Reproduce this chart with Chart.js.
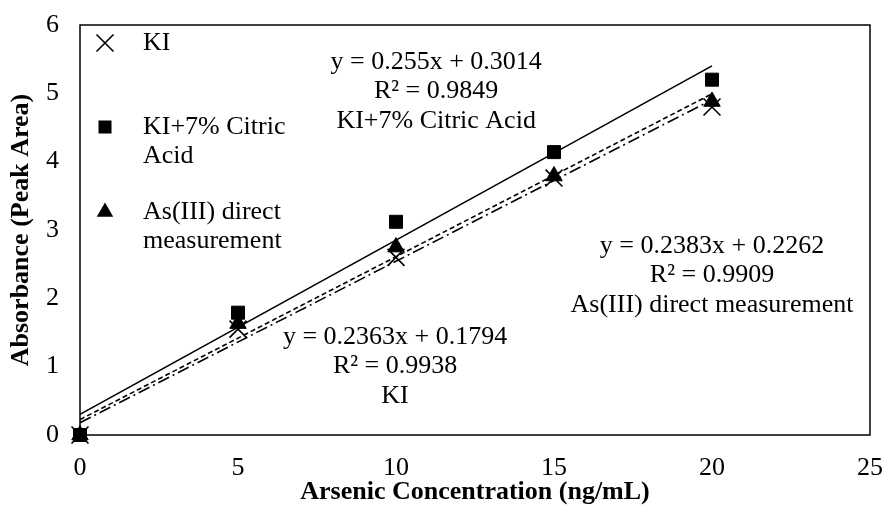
<!DOCTYPE html>
<html>
<head>
<meta charset="utf-8">
<script src="https://cdn.jsdelivr.net/npm/chart.js@4.4.1/dist/chart.umd.min.js"></script>
<style>
  html, body { margin: 0; padding: 0; background: #fff; }
  #wrap { width: 886px; height: 506px; }
</style>
</head>
<body>
<div id="wrap"><canvas id="calib"></canvas></div>
<script>
const concentrations = [0, 5, 10, 15, 20];
const kiValues = [0, 1.55, 2.6, 3.76, 4.8];
const citricValues = [0, 1.79, 3.12, 4.14, 5.2];
const directValues = [0, 1.63, 2.75, 3.79, 4.88];

const seriesNames = ['KI', 'KI+7% Citric Acid', 'As(III) direct measurement'];

// linear fits: [slope, intercept, R²]
const kiFit = [0.2363, 0.1794, 0.9938];
const citricFit = [0.255, 0.3014, 0.9849];
const directFit = [0.2383, 0.2262, 0.9909];

const xTicks = [0, 5, 10, 15, 20, 25];
const yTicks = [0, 1, 2, 3, 4, 5, 6];

const FONT = "'Liberation Serif', 'Times New Roman', serif";
const SIZE = 26;

const toPoints = vals => concentrations.map((c, i) => ({ x: c, y: vals[i] }));
const fitLine = fit => [
  { x: concentrations[0], y: fit[0] * concentrations[0] + fit[1] },
  { x: concentrations[concentrations.length - 1], y: fit[0] * concentrations[concentrations.length - 1] + fit[1] },
];

// equation labels, anchored in data units
const fitLabels = [
  { fit: citricFit, name: seriesNames[1], x: 11.27, y: 5.45 },
  { fit: directFit, name: seriesNames[2], x: 20.0, y: 2.76 },
  { fit: kiFit, name: seriesNames[0], x: 9.97, y: 1.43 },
];

function marker(ctx, style, x, y) {
  ctx.save();
  ctx.fillStyle = '#000';
  ctx.strokeStyle = '#000';
  ctx.beginPath();
  if (style === 'crossRot') {
    ctx.lineWidth = 1.6;
    const d = 8.5;
    ctx.moveTo(x - d, y - d); ctx.lineTo(x + d, y + d);
    ctx.moveTo(x + d, y - d); ctx.lineTo(x - d, y + d);
    ctx.stroke();
  } else if (style === 'rect') {
    ctx.fillRect(x - 6.5, y - 6.5, 13, 13);
  } else {
    const r = 9.5;
    for (let k = 0; k < 3; k++) {
      const a = k * 2 * Math.PI / 3;
      const px = x + Math.sin(a) * r, py = y - Math.cos(a) * r;
      k ? ctx.lineTo(px, py) : ctx.moveTo(px, py);
    }
    ctx.closePath();
    ctx.fill();
  }
  ctx.restore();
}

const framePlugin = {
  id: 'frame',
  beforeDatasetsDraw(chart) {
    const { ctx, chartArea: a } = chart;
    ctx.save();
    ctx.strokeStyle = '#000';
    ctx.lineWidth = 1.5;
    ctx.strokeRect(a.left, a.top, a.right - a.left, a.bottom - a.top);
    ctx.restore();
  },
};

const textPlugin = {
  id: 'texts',
  afterDraw(chart) {
    const { ctx, scales } = chart;
    ctx.save();
    ctx.fillStyle = '#000';
    ctx.font = `${SIZE}px ${FONT}`;
    ctx.textBaseline = 'middle';

    // fit equations
    ctx.textAlign = 'center';
    fitLabels.forEach(l => {
      const cx = scales.x.getPixelForValue(l.x);
      const cy = scales.y.getPixelForValue(l.y);
      ctx.fillText(`y = ${l.fit[0]}x + ${l.fit[1]}`, cx, cy);
      ctx.fillText(`R² = ${l.fit[2]}`, cx, cy + 29);
      ctx.fillText(l.name, cx, cy + 59);
    });

    // legend in the upper left of the plot
    const left = chart.chartArea.left;
    const top = chart.chartArea.top;
    const items = [
      { style: 'crossRot', lines: ['KI'], y: top + 18 },
      { style: 'rect', lines: ['KI+7% Citric', 'Acid'], y: top + 102 },
      { style: 'triangle', lines: ['As(III) direct', 'measurement'], y: top + 187 },
    ];
    ctx.textAlign = 'left';
    items.forEach(it => {
      marker(ctx, it.style, left + 25, it.y);
      it.lines.forEach((t, i) => ctx.fillText(t, left + 63, it.y + i * 29));
    });
    ctx.restore();
  },
};

const pointSet = (label, vals, style, radius) => ({
  label,
  type: 'scatter',
  data: toPoints(vals),
  showLine: false,
  clip: false,
  pointStyle: style,
  pointRadius: radius,
  pointHoverRadius: radius,
  pointBackgroundColor: '#000',
  pointBorderColor: '#000',
  pointBorderWidth: style === 'crossRot' ? 1.6 : 1,
});

const lineSet = (fit, dash) => ({
  type: 'line',
  data: fitLine(fit),
  borderColor: '#000',
  borderWidth: 1.6,
  borderDash: dash,
  pointRadius: 0,
  fill: false,
  tension: 0,
});

Chart.defaults.font.family = FONT;
Chart.defaults.color = '#000';

new Chart(document.getElementById('calib').getContext('2d'), {
  type: 'scatter',
  data: {
    datasets: [
      pointSet(seriesNames[1], citricValues, 'rect', 9.2),
      pointSet(seriesNames[2], directValues, 'triangle', 9.5),
      pointSet(seriesNames[0], kiValues, 'crossRot', 12),
      lineSet(citricFit, []),
      lineSet(directFit, [5, 3]),
      lineSet(kiFit, [12, 4, 2, 4]),
    ],
  },
  options: {
    responsive: true,
    maintainAspectRatio: false,
    animation: false,
    layout: { padding: { top: 25, right: 16, left: 0, bottom: 0 } },
    plugins: {
      legend: { display: false },
      tooltip: { enabled: false },
    },
    scales: {
      x: {
        type: 'linear',
        min: xTicks[0],
        max: xTicks[xTicks.length - 1],
        afterBuildTicks: s => { s.ticks = xTicks.map(v => ({ value: v })); },
        afterFit: s => { s.height = 71; s.paddingLeft = 0; s.paddingRight = 0; },
        ticks: { color: '#000', font: { size: SIZE }, padding: 18 },
        grid: { display: false, drawTicks: false },
        border: { display: false },
        title: {
          display: true,
          text: 'Arsenic Concentration (ng/mL)',
          color: '#000',
          font: { size: SIZE, weight: 'bold' },
          padding: { top: 0, bottom: -2 },
        },
      },
      y: {
        type: 'linear',
        min: yTicks[0],
        max: yTicks[yTicks.length - 1],
        afterBuildTicks: s => { s.ticks = yTicks.map(v => ({ value: v })); },
        afterFit: s => { s.width = 80; s.paddingTop = 0; s.paddingBottom = 0; },
        ticks: { color: '#000', font: { size: SIZE }, padding: 21 },
        grid: { display: false, drawTicks: false },
        border: { display: false },
        title: {
          display: true,
          text: 'Absorbance (Peak Area)',
          color: '#000',
          font: { size: SIZE, weight: 'bold' },
          padding: { top: 6, bottom: 0 },
        },
      },
    },
  },
  plugins: [framePlugin, textPlugin],
});
</script>
</body>
</html>
